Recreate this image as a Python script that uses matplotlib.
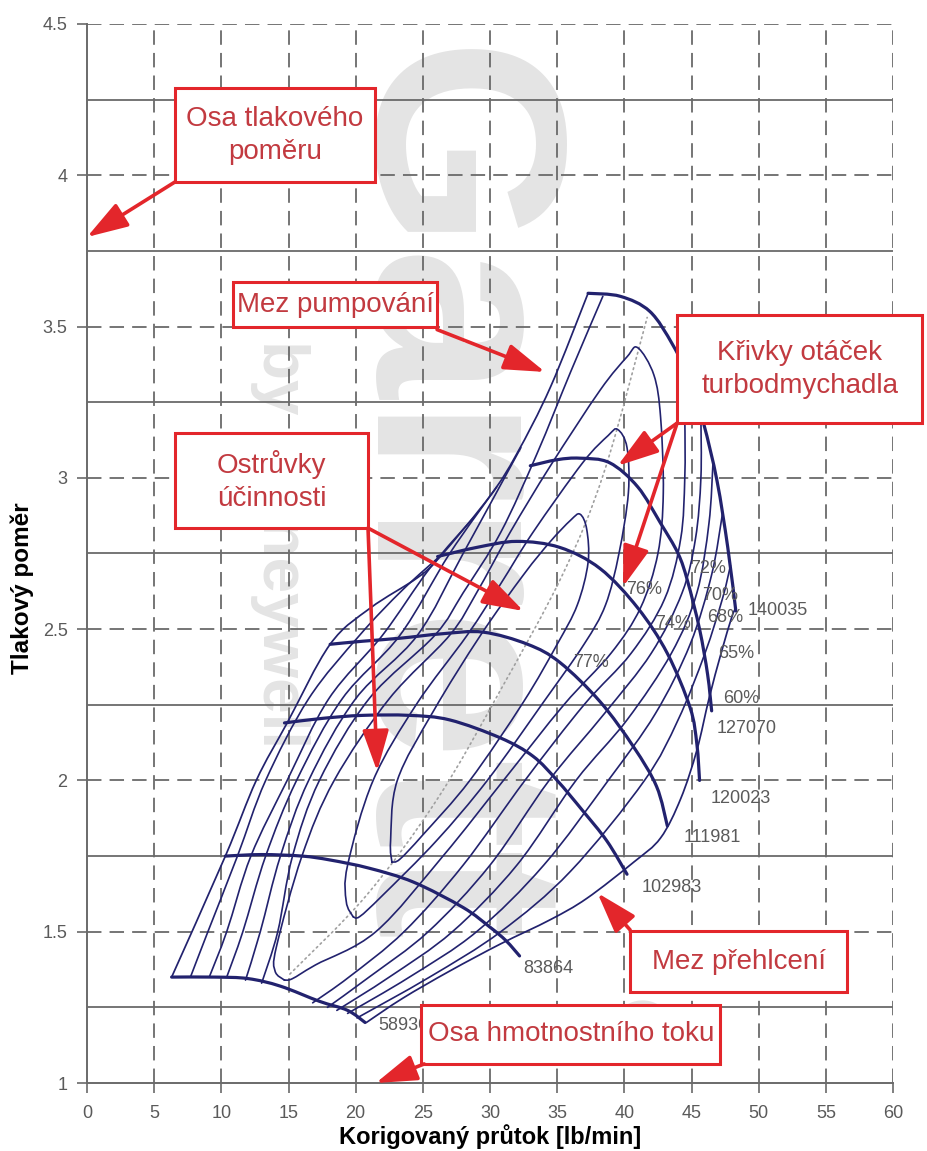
import numpy as np
import matplotlib.pyplot as plt
from matplotlib.path import Path
from matplotlib.patches import PathPatch, Rectangle, FancyArrowPatch

plt.rcParams['font.family'] = ['Liberation Sans', 'DejaVu Sans']

NAVY = '#22226e'
RED = '#e3262b'
RED_TEXT = '#c23a40'
GREY_TXT = '#5a5a5a'

# ---- speed lines (corrected flow lb/min, pressure ratio) ----
speed_labels = ['58930', '83864', '102983', '111981', '120023', '127070', '140035']
speed_58930_x = [6.3, 9.5, 12.0, 14.4, 17.3, 19.4, 20.7]
speed_58930_y = [1.35, 1.35, 1.345, 1.32, 1.27, 1.24, 1.20]
speed_83864_x = [10.3, 13.0, 16.0, 18.1, 21.0, 24.3, 28.0, 30.0, 31.2, 32.2]
speed_83864_y = [1.75, 1.755, 1.75, 1.737, 1.71, 1.664, 1.58, 1.515, 1.47, 1.42]
speed_102983_x = [14.7, 17.5, 20.5, 24.0, 27.0, 30.8, 33.2, 35.0, 36.9, 38.7, 40.2]
speed_102983_y = [2.19, 2.205, 2.215, 2.215, 2.20, 2.14, 2.08, 2.0, 1.90, 1.80, 1.69]
speed_111981_x = [18.1, 20.5, 23.3, 26.5, 29.5, 32.8, 35.2, 38.2, 40.7, 42.4, 43.2]
speed_111981_y = [2.45, 2.46, 2.47, 2.485, 2.49, 2.45, 2.39, 2.26, 2.11, 1.98, 1.85]
speed_120023_x = [26.1, 29.0, 32.0, 35.2, 38.2, 41.0, 43.2, 44.9, 45.4, 45.6]
speed_120023_y = [2.74, 2.77, 2.79, 2.77, 2.70, 2.57, 2.42, 2.24, 2.12, 2.00]
speed_127070_x = [33.0, 35.0, 36.7, 38.9, 41.0, 42.7, 44.0, 44.7, 45.6, 46.2, 46.5]
speed_127070_y = [3.04, 3.06, 3.065, 3.05, 2.97, 2.85, 2.75, 2.66, 2.50, 2.35, 2.23]
speed_140035_x = [37.3, 39.7, 41.9, 43.6, 44.9, 45.9, 46.9, 47.7, 48.3]
speed_140035_y = [3.61, 3.60, 3.55, 3.44, 3.32, 3.18, 2.99, 2.77, 2.56]
speed_label_x = [21.7, 32.5, 41.3, 44.4, 46.4, 46.9, 49.2]
speed_label_y = [1.19, 1.38, 1.645, 1.81, 1.94, 2.17, 2.56]

# ---- surge and choke boundaries ----
surge_x = [6.3, 10.3, 12.6, 14.9, 18.1, 21.1, 24.6, 26.3, 30.0, 32.0, 34.5, 37.3]
surge_y = [1.35, 1.75, 2.0, 2.19, 2.45, 2.57, 2.67, 2.74, 2.94, 3.08, 3.30, 3.61]
choke_x = [20.8, 23.5, 27.0, 30.8, 34.5, 37.2, 40.7, 42.7, 44.2, 45.4, 46.3, 47.2, 48.0, 48.3]
choke_y = [1.20, 1.28, 1.37, 1.46, 1.54, 1.61, 1.73, 1.81, 1.94, 2.10, 2.27, 2.42, 2.54, 2.57]

# ---- peak efficiency line ----
peak_x = [15.1, 20.8, 26.1, 30.8, 35.4, 38.5, 41.7]
peak_y = [1.36, 1.62, 1.94, 2.30, 2.68, 3.02, 3.53]

# ---- efficiency islands: left side and right side, bottom -> top ----
eff77_left = [(22.7, 1.73), (22.6, 1.80), (23.1, 2.00), (25.8, 2.23), (29.3, 2.48), (32.5, 2.68),
              (34.5, 2.79), (36.0, 2.86), (36.7, 2.88)]
eff77_right = [(22.7, 1.73), (23.3, 1.74), (25.0, 1.82), (28.5, 2.00), (32.5, 2.26), (35.0, 2.45),
               (36.5, 2.58), (37.3, 2.72), (37.2, 2.83), (36.7, 2.88)]
eff76_left = [(19.8, 1.55), (19.3, 1.60), (19.4, 1.72), (21.3, 2.00), (24.5, 2.25), (28.3, 2.48),
              (30.8, 2.65), (33.2, 2.82), (36.9, 3.05), (38.8, 3.14), (39.5, 3.16)]
eff76_right = [(19.8, 1.55), (20.3, 1.55), (22.0, 1.62), (26.0, 1.80), (29.8, 2.00), (34.0, 2.26),
               (37.0, 2.45), (38.6, 2.58), (39.6, 2.75), (40.3, 2.95), (40.2, 3.10), (39.5, 3.16)]
eff74_left = [(14.7, 1.34), (14.0, 1.37), (14.1, 1.45), (16.0, 1.75), (18.4, 2.00), (22.5, 2.27),
              (27.0, 2.48), (29.0, 2.62), (31.5, 2.82), (34.5, 3.04), (38.2, 3.29), (40.2, 3.40), (41.0, 3.43)]
eff74_right = [(14.7, 1.34), (15.3, 1.345), (17.0, 1.39), (21.5, 1.50), (26.5, 1.75), (31.0, 2.00),
               (35.5, 2.25), (39.0, 2.42), (41.2, 2.57), (42.5, 2.75), (42.9, 2.95), (42.7, 3.20),
               (42.2, 3.34), (41.0, 3.43)]
eff72_left = [(13.0, 1.33), (14.2, 1.50), (15.3, 1.75), (17.3, 2.00), (21.0, 2.27), (25.9, 2.48),
              (28.0, 2.62), (30.8, 2.82), (33.5, 3.08), (36.0, 3.35), (38.4, 3.60)]
eff72_right = [(16.8, 1.265), (19.5, 1.35), (23.6, 1.50), (28.0, 1.72), (32.6, 2.00), (37.0, 2.25),
               (40.5, 2.42), (43.0, 2.60), (44.2, 2.80), (44.5, 3.00), (44.5, 3.20), (44.4, 3.36)]
eff70_left = [(11.8, 1.34), (12.9, 1.50), (14.4, 1.75), (16.5, 2.00), (20.0, 2.27), (24.6, 2.48),
              (28.0, 2.75), (32.3, 3.10)]
eff70_right = [(17.9, 1.25), (21.0, 1.35), (25.4, 1.50), (30.0, 1.72), (34.4, 2.00), (38.5, 2.22),
               (42.0, 2.42), (44.3, 2.62), (45.3, 2.80), (45.7, 3.00), (45.7, 3.20)]
eff68_left = [(10.4, 1.35), (11.6, 1.50), (13.3, 1.75), (15.6, 2.00), (19.0, 2.27), (23.3, 2.48),
              (27.0, 2.75), (30.5, 2.97)]
eff68_right = [(18.6, 1.24), (22.5, 1.35), (27.2, 1.50), (32.0, 1.72), (36.4, 2.00), (40.2, 2.20),
               (43.5, 2.42), (45.4, 2.62), (46.3, 2.85), (46.6, 3.05)]
eff65_left = [(9.1, 1.35), (10.4, 1.50), (12.2, 1.75), (14.9, 2.00), (18.0, 2.27), (22.0, 2.48),
              (25.5, 2.70), (28.8, 2.87)]
eff65_right = [(19.4, 1.23), (24.0, 1.35), (29.0, 1.50), (34.0, 1.72), (38.8, 2.00), (42.3, 2.22),
               (44.9, 2.45), (46.5, 2.68), (47.3, 2.88)]
eff60_left = [(7.7, 1.35), (9.0, 1.50), (11.2, 1.75), (13.3, 2.00), (16.5, 2.27), (20.3, 2.48),
              (23.5, 2.63), (26.5, 2.75)]
eff60_right = [(20.1, 1.215), (25.5, 1.35), (30.8, 1.50), (36.0, 1.70), (41.5, 2.00), (44.0, 2.20),
               (46.0, 2.42), (47.3, 2.60), (47.9, 2.71)]

eff_labels = ['77%', '76%', '74%', '72%', '70%', '68%', '65%', '60%']
eff_label_x = [37.5, 41.5, 43.6, 46.2, 47.1, 47.5, 48.3, 48.7]
eff_label_y = [2.39, 2.63, 2.52, 2.70, 2.61, 2.54, 2.42, 2.27]

x_ticks = list(range(0, 61, 5))
y_ticks = [1, 1.5, 2, 2.5, 3, 3.5, 4, 4.5]
y_tick_labels = ['1', '1.5', '2', '2.5', '3', '3.5', '4', '4.5']


def smooth_path(pts):
    # Catmull-Rom spline through the points, written as cubic Bezier segments
    pts = np.asarray(pts, dtype=float)
    n = len(pts)
    verts = [pts[0]]
    codes = [Path.MOVETO]
    for i in range(n - 1):
        p0 = pts[i - 1] if i > 0 else pts[i]
        p1, p2 = pts[i], pts[i + 1]
        p3 = pts[i + 2] if i + 2 < n else pts[i + 1]
        verts += [p1 + (p2 - p0) / 6, p2 - (p3 - p1) / 6, p2]
        codes += [Path.CURVE4] * 3
    return Path(verts, codes)


def curve(ax, pts, lw, color=NAVY, ls='-', z=3):
    ax.add_patch(PathPatch(smooth_path(pts), fill=False, lw=lw, ec=color, ls=ls,
                           zorder=z, capstyle='round', joinstyle='round'))


def callout(ax, x0, y0, x1, y1, text, arrows, size=20):
    ax.add_patch(Rectangle((x0, y0), x1 - x0, y1 - y0, fc='white', ec=RED, lw=2.2,
                           zorder=8, clip_on=False))
    ax.text((x0 + x1) / 2, (y0 + y1) / 2, text, ha='center', va='center', fontsize=size,
            color=RED_TEXT, linespacing=1.35, zorder=9, clip_on=False)
    for (sx, sy), (tx, ty) in arrows:
        ax.add_patch(FancyArrowPatch((sx, sy), (tx, ty),
                                     arrowstyle='-|>,head_length=1.4,head_width=0.45',
                                     mutation_scale=18, color=RED, lw=2.6, shrinkA=0, shrinkB=0,
                                     zorder=10, clip_on=False))


fig = plt.figure(figsize=(9.27, 11.51), dpi=100)
ax = fig.add_axes([87 / 927, 68 / 1151, 806 / 927, 1059 / 1151])
ax.set_xlim(0, 60)
ax.set_ylim(1, 4.5)

# background logo
ax.text(26.0, 2.93, 'Garrett', rotation=-90, ha='center', va='center', fontsize=195,
        fontweight='bold', color='#e4e4e4', zorder=0)
ax.text(14.4, 2.78, 'by Honeywell', rotation=-90, ha='center', va='center', fontsize=46,
        fontweight='bold', color='#e4e4e4', zorder=0)
ax.text(40.6, 1.17, '\u00ae', rotation=-90, ha='center', va='center', fontsize=64,
        color='#e4e4e4', zorder=0)

# grid: dashed at every 5 lb/min and every 0.5, solid in between
for gx in x_ticks[1:]:
    ax.axvline(gx, color='#6a6a6a', lw=1.3, ls=(0, (8, 4.5)), zorder=1)
for gy in np.arange(1.5, 4.51, 0.5):
    ax.axhline(gy, color='#6a6a6a', lw=1.3, ls=(0, (8, 4.5)), zorder=1)
for gy in np.arange(1.25, 4.5, 0.5):
    ax.axhline(gy, color='#6a6a6a', lw=1.3, zorder=1)

for s in ['top', 'right']:
    ax.spines[s].set_visible(False)
for s in ['left', 'bottom']:
    ax.spines[s].set_color('#6a6a6a')
    ax.spines[s].set_linewidth(1.4)

ax.set_xticks(x_ticks)
ax.set_yticks(y_ticks)
ax.set_yticklabels(y_tick_labels)
ax.tick_params(direction='out', length=7, width=1.2, color='#6a6a6a', labelcolor=GREY_TXT,
               labelsize=13)
ax.tick_params(axis='x', pad=9)
ax.tick_params(axis='y', pad=7)

# peak efficiency line
curve(ax, list(zip(peak_x, peak_y)), 1.2, color='#a0a0a0', ls=(0, (1, 2.2)), z=2)

# efficiency islands
closed = [(eff77_left, eff77_right), (eff76_left, eff76_right), (eff74_left, eff74_right)]
for left, right in closed:
    curve(ax, right + left[::-1][1:], 1.2)
for left, right in [(eff72_left, eff72_right), (eff70_left, eff70_right), (eff68_left, eff68_right),
                    (eff65_left, eff65_right), (eff60_left, eff60_right)]:
    curve(ax, left, 1.2)
    curve(ax, right, 1.2)

curve(ax, list(zip(surge_x, surge_y)), 1.25)
curve(ax, list(zip(choke_x, choke_y)), 1.25)

# speed lines
speed_x = [speed_58930_x, speed_83864_x, speed_102983_x, speed_111981_x,
           speed_120023_x, speed_127070_x, speed_140035_x]
speed_y = [speed_58930_y, speed_83864_y, speed_102983_y, speed_111981_y,
           speed_120023_y, speed_127070_y, speed_140035_y]
for xs, ys in zip(speed_x, speed_y):
    curve(ax, list(zip(xs, ys)), 2.3, z=4)
for lab, lx, ly in zip(speed_labels, speed_label_x, speed_label_y):
    ax.text(lx, ly, lab, ha='left', va='center', fontsize=13, color=GREY_TXT, zorder=5)
for lab, lx, ly in zip(eff_labels, eff_label_x, eff_label_y):
    ax.text(lx, ly, lab, ha='center', va='center', fontsize=13, color=GREY_TXT, zorder=5)

# annotation boxes
callout(ax, 6.55, 3.978, 21.44, 4.288, 'Osa tlakového\npoměru', [((6.55, 3.978), (0.0, 3.796))])
callout(ax, 10.87, 3.498, 26.06, 3.647, 'Mez pumpování', [((26.06, 3.49), (34.1, 3.35))])
callout(ax, 43.93, 3.181, 62.17, 3.538, 'Křivky otáček\nturbodmychadla',
        [((43.93, 3.181), (39.5, 3.04)), ((43.93, 3.181), (39.9, 2.64))])
callout(ax, 6.55, 2.834, 20.92, 3.148, 'Ostrůvky\núčinnosti',
        [((20.92, 2.834), (32.5, 2.56)), ((20.92, 2.834), (21.6, 2.03))])
callout(ax, 40.43, 1.301, 56.59, 1.502, 'Mez přehlcení', [((40.43, 1.506), (38.0, 1.628))])
callout(ax, 24.9, 1.063, 47.13, 1.258, 'Osa hmotnostního toku', [((25.1, 1.063), (21.5, 1.0))])

fig.text(490 / 927, 1 - 1137 / 1151, 'Korigovaný průtok [lb/min]', ha='center', va='center',
         fontsize=17, fontweight='bold')
fig.text(22 / 927, 1 - 588 / 1151, 'Tlakový poměr', ha='center', va='center', rotation=90,
         fontsize=17.5, fontweight='bold')

fig.savefig('out.png', dpi=100)
